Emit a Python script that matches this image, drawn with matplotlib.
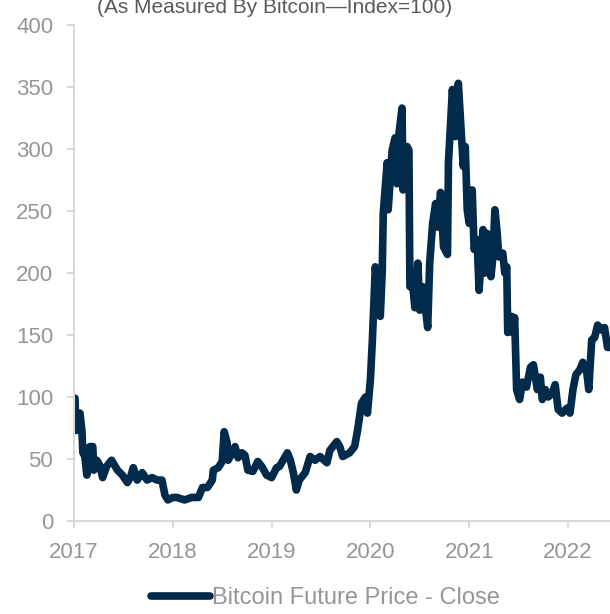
import matplotlib
matplotlib.use("Agg")
import matplotlib.pyplot as plt
import numpy as np

# time in years since start of 2017, index value (Bitcoin = 100 at start)
years = [0.00, 0.01, 0.02, 0.06, 0.08, 0.09, 0.11, 0.13, 0.16, 0.19, 0.20, 0.23,
         0.26, 0.29, 0.33, 0.38, 0.44, 0.49, 0.54, 0.57, 0.60, 0.64, 0.69, 0.74,
         0.79, 0.84, 0.89, 0.92, 0.95, 1.00, 1.04, 1.12, 1.19, 1.26, 1.30, 1.35,
         1.40, 1.41, 1.46, 1.50, 1.52, 1.55, 1.56, 1.60, 1.63, 1.66, 1.70, 1.73,
         1.76, 1.81, 1.86, 1.90, 1.95, 2.00, 2.05, 2.08, 2.16, 2.19, 2.22, 2.25,
         2.28, 2.34, 2.39, 2.44, 2.49, 2.56, 2.59, 2.66, 2.69, 2.72, 2.79, 2.84,
         2.87, 2.91, 2.95, 2.97, 3.00, 3.02, 3.05, 3.07, 3.10, 3.12, 3.13, 3.17,
         3.18, 3.20, 3.22, 3.25, 3.27, 3.29, 3.32, 3.33, 3.37, 3.39, 3.40, 3.43,
         3.45, 3.48, 3.50, 3.53, 3.55, 3.58, 3.60, 3.63, 3.66, 3.68, 3.71, 3.74,
         3.78, 3.79, 3.83, 3.86, 3.89, 3.92, 3.94, 3.96, 3.98, 4.00, 4.03, 4.05,
         4.08, 4.10, 4.14, 4.16, 4.18, 4.22, 4.24, 4.26, 4.28, 4.30, 4.34, 4.36,
         4.38, 4.39, 4.43, 4.44, 4.46, 4.48, 4.51, 4.54, 4.58, 4.62, 4.65, 4.69,
         4.72, 4.74, 4.77, 4.80, 4.84, 4.87, 4.90, 4.94, 4.99, 5.02, 5.05, 5.08,
         5.12, 5.15, 5.19, 5.21, 5.24, 5.27, 5.30, 5.34, 5.37, 5.40, 5.43]
index = [99, 99, 73, 87, 73, 55, 52, 37, 60, 60, 41, 49,
         45, 35, 44, 49, 41, 37, 31, 35, 43, 33, 39, 33,
         35, 33, 33, 21, 17, 19, 19, 17, 19, 19, 27, 27,
         33, 41, 43, 48, 72, 63, 49, 55, 60, 51, 55, 53,
         41, 40, 48, 44, 37, 35, 43, 44, 55, 49, 39, 25,
         33, 39, 52, 49, 52, 47, 57, 64, 60, 52, 55, 60,
         73, 95, 100, 87, 114, 146, 205, 186, 165, 202, 248, 289,
         251, 275, 299, 309, 272, 313, 333, 267, 302, 299, 189, 189,
         172, 208, 170, 189, 176, 156, 208, 240, 256, 237, 265, 221,
         215, 289, 348, 310, 353, 313, 286, 302, 251, 240, 267, 219,
         227, 186, 235, 200, 232, 197, 213, 251, 235, 213, 216, 200,
         205, 152, 165, 152, 164, 106, 98, 112, 108, 124, 126, 106,
         116, 98, 106, 100, 103, 110, 90, 87, 91, 87, 106, 118,
         122, 128, 120, 106, 146, 148, 158, 154, 156, 140, 140]

year_ticks = [2017, 2018, 2019, 2020, 2021, 2022]
value_ticks = [0, 50, 100, 150, 200, 250, 300, 350, 400]

navy = "#022a4b"
grey_txt = "#969696"
grey_ax = "#d9d9d9"

plt.rcParams['font.family'] = ['Liberation Sans', 'DejaVu Sans']

fig = plt.figure(figsize=(6.1, 6.14), dpi=100)
ax = fig.add_axes([74 / 610, 93 / 614, 536 / 610, 496 / 614])

x = 2017 + np.array(years)
ax.plot(x, index, color=navy, lw=5.5, solid_joinstyle="round",
        solid_capstyle="round", label="Bitcoin Future Price - Close")

ax.set_xlim(2017, 2017 + 536 / 98.8)
ax.set_ylim(0, 400)
ax.set_xticks(year_ticks)
ax.set_yticks(value_ticks)
ax.set_xticklabels([str(y) for y in year_ticks])

for s in ["top", "right"]:
    ax.spines[s].set_visible(False)
for s in ["left", "bottom"]:
    ax.spines[s].set_color(grey_ax)
    ax.spines[s].set_linewidth(1.5)
ax.tick_params(axis="both", colors=grey_ax, labelcolor=grey_txt,
               labelsize=16, length=5, width=1.5, pad=10)

fig.text(275 / 610, 1 - 13 / 614, "(As Measured By Bitcoin\u2014Index=100)",
         ha="center", va="baseline", fontsize=15, color="#595959")

leg = fig.legend(loc="lower center", bbox_to_anchor=(0.534, -0.027), frameon=False,
                 fontsize=17, handlelength=2.5, handletextpad=0.1)
for t in leg.get_texts():
    t.set_color(grey_txt)

fig.savefig("out.png", dpi=100)
